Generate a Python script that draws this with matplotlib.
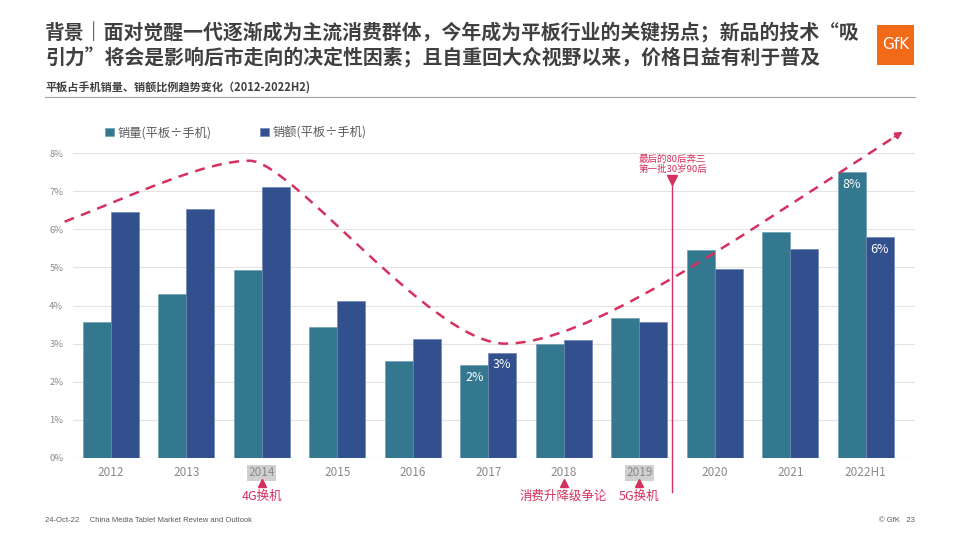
import matplotlib
matplotlib.use('Agg')
import matplotlib.pyplot as plt
from matplotlib.path import Path
from matplotlib.patches import PathPatch, Rectangle

plt.rcParams['font.family'] = ['Noto Sans CJK SC', 'DejaVu Sans']

# data
years = ['2012', '2013', '2014', '2015', '2016', '2017', '2018', '2019', '2020', '2021', '2022H1']
volume_ratio = [3.57, 4.30, 4.93, 3.44, 2.55, 2.44, 2.99, 3.67, 5.46, 5.93, 7.51]   # 销量(平板÷手机) %
value_ratio = [6.46, 6.54, 7.11, 4.12, 3.12, 2.76, 3.10, 3.57, 4.96, 5.49, 5.80]    # 销额(平板÷手机) %
volume_labels = {5: '2%', 10: '8%'}
value_labels = {5: '3%', 10: '6%'}
events = [(2, '4G换机'), (6, '消费升降级争论'), (7, '5G换机')]
highlight_years = [2, 7]

teal = '#347890'
navy = '#324F8E'
red = '#D6305F'
grey = '#8A8A8A'

fig = plt.figure(figsize=(9.6, 5.4), dpi=100)
ax = fig.add_axes([0.076, 0.152, 0.877, 0.635])

x = list(range(len(years)))
w = 0.37
ax.bar([i - w / 2 for i in x], volume_ratio, w, color=teal, edgecolor='#6f9fb0', linewidth=0.5,
       label='销量(平板÷手机)', zorder=2)
ax.bar([i + w / 2 for i in x], value_ratio, w, color=navy, edgecolor='#6f86b5', linewidth=0.5,
       label='销额(平板÷手机)', zorder=2)

for i, t in volume_labels.items():
    ax.text(i - w / 2, volume_ratio[i] - 0.15, t, color='white', ha='center', va='top', fontsize=9, zorder=3)
for i, t in value_labels.items():
    ax.text(i + w / 2, value_ratio[i] - 0.15, t, color='white', ha='center', va='top', fontsize=9, zorder=3)

ax.set_xlim(-0.5, 10.65)
ax.set_ylim(0, 9)
ax.set_yticks(range(0, 9))
ax.set_yticklabels([f'{v}%' for v in range(0, 9)], fontsize=6.8, color=grey)
ax.set_xticks(x)
ax.set_xticklabels(years, fontsize=8.5, color=grey)
ax.tick_params(length=0, pad=6)
ax.tick_params(axis='y', pad=7)
for s in ax.spines.values():
    s.set_visible(False)
for v in range(1, 9):
    ax.axhline(v, color='#E3E3E3', linewidth=0.8, zorder=0)
ax.axhline(0, color='#D0D0D0', linewidth=0.9, zorder=1)

for i in highlight_years:
    ax.get_xticklabels()[i].set_bbox(dict(facecolor='#D0D0D0', edgecolor='none', pad=1.0))

# trend curve
verts = [(-0.61, 6.2), (0.3, 6.9), (1.25, 7.8), (1.84, 7.8),
         (2.4, 7.8), (4.25, 3.0), (5.22, 3.0),
         (6.3, 3.0), (8.1, 5.5), (10.4, 8.45)]
codes = [Path.MOVETO] + [Path.CURVE4] * 9
ax.add_patch(PathPatch(Path(verts, codes), facecolor='none', edgecolor=red, linewidth=1.8,
                       linestyle=(0, (4, 3)), clip_on=False, zorder=4))
ax.annotate('', xy=(10.52, 8.6), xytext=(10.35, 8.39),
            arrowprops=dict(arrowstyle='-|>', color=red, lw=1.5, mutation_scale=10), annotation_clip=False)

# vertical marker
ax.plot([7.44, 7.44], [-0.9, 7.4], color=red, linewidth=1, clip_on=False, zorder=4)
ax.plot([7.44], [7.3], marker='v', color=red, markersize=7, clip_on=False, zorder=5)
ax.text(7.44, 7.45, '最后的80后奔三\n第一批30岁90后', color=red, fontsize=6.8, ha='center', va='bottom',
        linespacing=1.15)

# events below axis
for i, t in events:
    ax.plot([i], [-0.66], marker='^', color=red, markersize=6, clip_on=False)
    ax.text(i, -0.83, t, color=red, fontsize=9, ha='center', va='top')

ax.legend(loc='upper left', bbox_to_anchor=(0.025, 1.0), ncol=2, frameon=False, fontsize=8.8,
          handlelength=0.7, handleheight=0.7, handletextpad=0.3, columnspacing=4.0,
          labelcolor='#595959')

# header
fig.text(0.047, 0.94, '背景｜面对觉醒一代逐渐成为主流消费群体，今年成为平板行业的关键拐点；新品的技术“吸',
         fontsize=14.3, fontweight='bold', color='#404040', va='center')
fig.text(0.047, 0.893, '引力”将会是影响后市走向的决定性因素；且自重回大众视野以来，价格日益有利于普及',
         fontsize=14.3, fontweight='bold', color='#404040', va='center')
fig.text(0.047, 0.838, '平板占手机销量、销额比例趋势变化（2012-2022H2)', fontsize=8, fontweight='bold',
         color='#404040', va='center')
fig.add_artist(plt.Line2D([0.047, 0.953], [0.82, 0.82], color='#A0A0A0', linewidth=0.8))
fig.add_artist(Rectangle((0.914, 0.88), 0.038, 0.074, facecolor='#F06A1A', edgecolor='none'))
fig.text(0.933, 0.917, 'GfK', color='white', fontsize=11, ha='center', va='center', family=['DejaVu Sans'])

# footer
fig.text(0.047, 0.037, '24-Oct-22     China Media Tablet Market Review and Outlook', fontsize=5.5,
         color='#595959', va='center', family=['Liberation Sans'])
fig.text(0.953, 0.037, '© GfK   23', fontsize=5.5, color='#595959', va='center', ha='right',
         family=['Liberation Sans'])

fig.savefig('out.png', dpi=100)
